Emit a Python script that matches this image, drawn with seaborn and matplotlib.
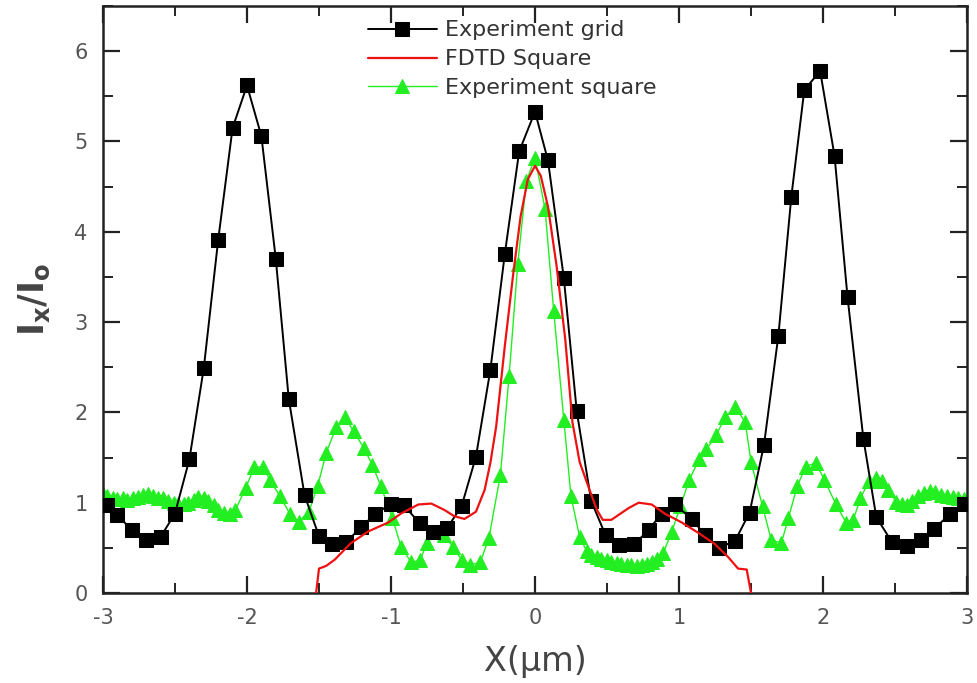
import numpy as np
import pandas as pd
import matplotlib
matplotlib.use("Agg")
import matplotlib.pyplot as plt
import seaborn as sns
from matplotlib.ticker import MultipleLocator

# ---------------- data ----------------
grid_x = [-2.97, -2.90, -2.80, -2.70, -2.60, -2.50, -2.40, -2.30, -2.20, -2.10,
          -2.00, -1.90, -1.80, -1.71, -1.60, -1.50, -1.41, -1.31, -1.21, -1.11,
          -1.00, -0.91, -0.80, -0.71, -0.61, -0.51, -0.41, -0.31, -0.21, -0.11,
          0.00, 0.09, 0.20, 0.29, 0.39, 0.49, 0.58, 0.69, 0.79, 0.88,
          0.97, 1.09, 1.18, 1.28, 1.39, 1.49, 1.59, 1.69, 1.78, 1.87,
          1.98, 2.08, 2.17, 2.28, 2.37, 2.48, 2.58, 2.68, 2.77, 2.88, 2.98]
grid_y = [0.97, 0.86, 0.70, 0.59, 0.62, 0.88, 1.48, 2.49, 3.91, 5.15,
          5.62, 5.06, 3.70, 2.15, 1.08, 0.63, 0.54, 0.56, 0.73, 0.87,
          0.99, 0.97, 0.77, 0.67, 0.72, 0.96, 1.51, 2.47, 3.75, 4.89,
          5.33, 4.79, 3.49, 2.01, 1.02, 0.64, 0.53, 0.54, 0.70, 0.88,
          0.98, 0.82, 0.64, 0.50, 0.58, 0.89, 1.64, 2.85, 4.39, 5.57,
          5.78, 4.84, 3.28, 1.71, 0.84, 0.56, 0.52, 0.59, 0.71, 0.87, 0.98]

fdtd_x = [-1.52, -1.50, -1.45, -1.39, -1.28, -1.16, -1.02, -0.93, -0.81, -0.72,
          -0.63, -0.56, -0.49, -0.41, -0.35, -0.31, -0.27, -0.21, -0.15, -0.10,
          -0.05, 0.00, 0.04, 0.09, 0.15, 0.21, 0.26, 0.31, 0.37, 0.43,
          0.47, 0.53, 0.65, 0.72, 0.81, 0.90, 1.02, 1.13, 1.25, 1.34,
          1.41, 1.47, 1.50]
fdtd_y = [0.00, 0.27, 0.30, 0.37, 0.55, 0.68, 0.78, 0.88, 0.98, 0.99,
          0.92, 0.85, 0.82, 0.90, 1.14, 1.44, 1.84, 2.73, 3.55, 4.17,
          4.58, 4.73, 4.62, 4.28, 3.62, 2.81, 1.89, 1.45, 1.18, 0.92,
          0.81, 0.81, 0.94, 1.00, 0.98, 0.88, 0.78, 0.67, 0.54, 0.40,
          0.27, 0.26, 0.00]

sq_x = [-3.00, -2.97, -2.93, -2.90, -2.86, -2.83, -2.79, -2.76, -2.72, -2.69,
        -2.65, -2.62, -2.58, -2.55, -2.51, -2.48, -2.44, -2.41, -2.37, -2.34,
        -2.30, -2.27, -2.23, -2.20, -2.16, -2.12, -2.08, -2.01, -1.95, -1.89,
        -1.84, -1.77, -1.70, -1.64, -1.57, -1.51, -1.45, -1.38, -1.32, -1.26,
        -1.19, -1.13, -1.07, -0.99, -0.93, -0.86, -0.80, -0.75, -0.69, -0.63,
        -0.57, -0.51, -0.45, -0.38, -0.32, -0.24, -0.18, -0.12, -0.06, 0.00,
        0.07, 0.13, 0.20, 0.25, 0.31, 0.36, 0.39, 0.43, 0.46, 0.50,
        0.53, 0.57, 0.60, 0.64, 0.67, 0.71, 0.74, 0.78, 0.81, 0.85,
        0.89, 0.95, 1.01, 1.07, 1.14, 1.19, 1.26, 1.32, 1.39, 1.46,
        1.50, 1.58, 1.64, 1.71, 1.76, 1.82, 1.88, 1.95, 2.01, 2.09,
        2.16, 2.21, 2.26, 2.32, 2.37, 2.41, 2.45, 2.51, 2.55, 2.58,
        2.62, 2.66, 2.70, 2.74, 2.78, 2.82, 2.86, 2.90, 2.94, 2.98]
sq_y = [1.10, 1.07, 1.05, 1.04, 1.05, 1.03, 1.05, 1.06, 1.08, 1.10,
        1.07, 1.05, 1.05, 1.02, 1.00, 0.98, 0.99, 1.00, 1.03, 1.06,
        1.05, 1.02, 0.97, 0.92, 0.89, 0.88, 0.92, 1.16, 1.39, 1.40,
        1.25, 1.07, 0.87, 0.79, 0.90, 1.18, 1.55, 1.84, 1.95, 1.79,
        1.61, 1.42, 1.18, 0.83, 0.51, 0.34, 0.36, 0.55, 0.67, 0.64,
        0.51, 0.37, 0.31, 0.34, 0.61, 1.31, 2.40, 3.64, 4.56, 4.82,
        4.25, 3.12, 1.92, 1.07, 0.62, 0.46, 0.42, 0.40, 0.38, 0.36,
        0.34, 0.33, 0.32, 0.31, 0.31, 0.30, 0.31, 0.32, 0.34, 0.38,
        0.44, 0.68, 0.96, 1.25, 1.48, 1.59, 1.75, 1.95, 2.06, 1.89,
        1.45, 0.96, 0.59, 0.55, 0.83, 1.18, 1.40, 1.44, 1.25, 0.98,
        0.78, 0.81, 1.05, 1.24, 1.27, 1.24, 1.14, 1.01, 0.98, 0.97,
        1.02, 1.07, 1.11, 1.13, 1.12, 1.09, 1.07, 1.06, 1.05, 1.04]

x_ticks = [-3, -2, -1, 0, 1, 2, 3]
y_ticks = [0, 1, 2, 3, 4, 5, 6]

# ---------------- plot ----------------
sns.set_style("ticks")
plt.rcParams["font.family"] = ["DejaVu Sans"]
plt.rcParams["axes.unicode_minus"] = False
plt.rcParams["mathtext.fontset"] = "dejavusans"

fig = plt.figure(figsize=(9.77, 6.83), dpi=100)
ax = fig.add_axes([0.1054, 0.1318, 0.8844, 0.8594])

df_grid = pd.DataFrame({"x": grid_x, "y": grid_y})
df_fdtd = pd.DataFrame({"x": fdtd_x, "y": fdtd_y})
df_sq = pd.DataFrame({"x": sq_x, "y": sq_y})

sns.lineplot(data=df_grid, x="x", y="y", ax=ax, color="black", lw=1.4,
             marker="s", markersize=9.5, markeredgecolor="black",
             label="Experiment grid", sort=False, zorder=3)
sns.lineplot(data=df_fdtd, x="x", y="y", ax=ax, color="#ee1111", lw=1.6,
             label="FDTD Square", sort=False, zorder=4)
sns.lineplot(data=df_sq, x="x", y="y", ax=ax, color="#22ee22", lw=1.0,
             marker="^", markersize=10.5, markeredgecolor="#22ee22",
             label="Experiment square", sort=False, zorder=2)

ax.set_xlim(-3, 3)
ax.set_ylim(0, 6.5)
ax.set_xticks(x_ticks)
ax.set_yticks(y_ticks)
ax.xaxis.set_minor_locator(MultipleLocator(0.5))
ax.yaxis.set_minor_locator(MultipleLocator(0.5))
ax.tick_params(which="both", direction="in", top=True, right=True,
               labeltop=False, labelright=False, color="#222222")
ax.tick_params(which="major", length=12, width=1.6, labelsize=15,
               labelcolor="#555555")
ax.tick_params(axis="x", which="major", pad=11)
ax.tick_params(axis="y", which="major", pad=11)
ax.tick_params(which="minor", length=7, width=1.4)
for s in ax.spines.values():
    s.set_linewidth(1.8)
    s.set_color("#222222")

ax.set_xlabel("X(μm)", fontsize=24, color="#444444", labelpad=12)
ax.set_ylabel(r"$\mathbf{I_x/I_o}$", fontsize=25, color="#444444", labelpad=16)

leg = ax.legend(loc="upper left", bbox_to_anchor=(0.290, 1.0), frameon=False,
                fontsize=16, handlelength=3.1, handletextpad=0.36,
                labelspacing=0.4, borderaxespad=0.25)
for t in leg.get_texts():
    t.set_color("#333333")

fig.savefig("out.png", dpi=100)
